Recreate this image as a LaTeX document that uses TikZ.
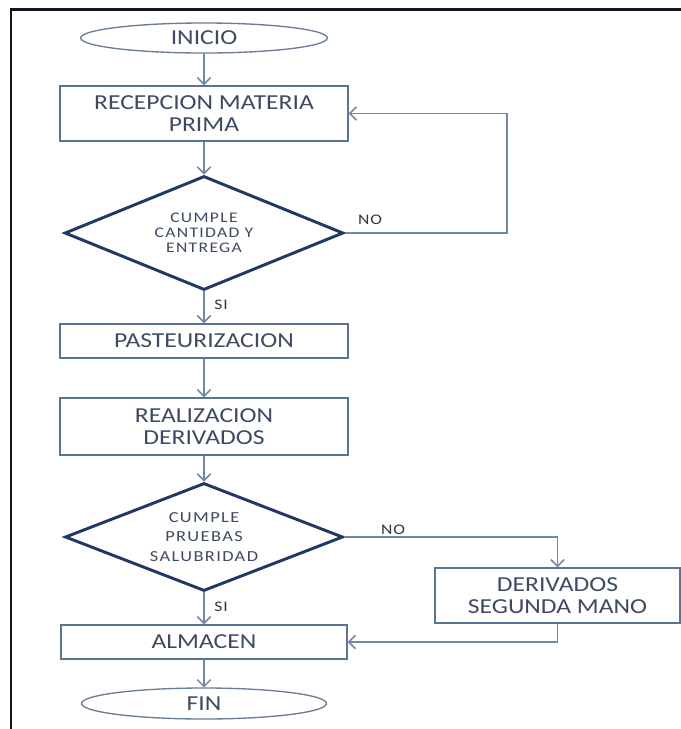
\documentclass[tikz,border=0pt]{standalone}
\usepackage{fontspec}
\setmainfont{Carlito}[FakeStretch=1.2]
\newfontfamily\diafont{Carlito}[FakeStretch=1.2,LetterSpace=9]
\newfontfamily\lblfont{Carlito}[FakeStretch=1.2,LetterSpace=6]
\usetikzlibrary{shapes.geometric,arrows.meta}

\definecolor{boxline}{HTML}{5A7496}
\definecolor{decline}{HTML}{1F3864}
\definecolor{connline}{HTML}{7088A8}
\definecolor{termline}{HTML}{6A7C96}
\definecolor{txt}{HTML}{3E4A62}
\definecolor{lbltxt}{HTML}{33383F}
\definecolor{framecol}{HTML}{10151E}

\tikzset{
  box/.style={rectangle, draw=boxline, line width=1.1pt, fill=white,
    align=center, text=txt, inner sep=0pt,
    font=\fontsize{16}{16.5}\selectfont},
  decision/.style={diamond, aspect=2.5, draw=decline, line width=2.2pt,
    fill=white, align=center, text=txt, inner sep=0pt},
  terminal/.style={ellipse, draw=termline, line width=1pt, fill=white,
    text=txt, inner sep=0pt, font=\fontsize{16}{16.5}\selectfont},
  flow/.style={draw=connline, line width=1.1pt,
    -{Straight Barb[length=5pt,width=10pt,line width=1.1pt]}},
  lbl/.style={text=lbltxt, inner sep=0pt, font=\lblfont\fontsize{11}{12}\selectfont}
}

\begin{document}
\begin{tikzpicture}[x=0.75pt,y=-0.75pt]
  \path[use as bounding box, fill=white] (0,0) rectangle (681,729);

  % page frame (top and left edges)
  \draw[framecol, line width=2.8pt] (10,9.5) -- (681,9.5);
  \draw[framecol, line width=1.9pt] (11,8) -- (11,729);

  % flow steps
  \node[terminal, minimum width=185pt, minimum height=22.5pt] (ini) at (204,38) {INICIO};
  \node[box, minimum width=216pt, minimum height=41.25pt] (rec) at (204,113.5)
    {RECEPCION MATERIA\\PRIMA};
  \node[decision, minimum width=209pt, minimum height=85.5pt,
    font=\diafont\fontsize{11}{11.2}\selectfont] (d1) at (204,233)
    {CUMPLE\\CANTIDAD Y\\ENTREGA};
  \node[box, minimum width=216pt, minimum height=25.5pt] (past) at (204,341)
    {PASTEURIZACION};
  \node[box, minimum width=216pt, minimum height=42.75pt] (real) at (204,426.5)
    {REALIZACION\\DERIVADOS};
  \node[decision, minimum width=208.5pt, minimum height=81pt,
    font=\diafont\fontsize{11.5}{14.6}\selectfont] (d2) at (204,537)
    {CUMPLE\\PRUEBAS\\SALUBRIDAD};
  \node[box, minimum width=183.75pt, minimum height=41.25pt] (der) at (557.5,595.5)
    {DERIVADOS\\SEGUNDA MANO};
  \node[box, minimum width=214.5pt, minimum height=25.5pt] (alm) at (204,642)
    {ALMACEN};
  \node[terminal, minimum width=183.75pt, minimum height=23.25pt] (fin) at (204,703.5) {FIN};

  % branch labels
  \node[lbl] (no1) at (370,220) {NO};
  \node[lbl] (si1) at (221,305) {SI};
  \node[lbl] (no2) at (393,530) {NO};
  \node[lbl] (si2) at (221,607) {SI};

  % connectors
  \coordinate (loop) at (507,233);
  \draw[flow] (ini) -- (rec);
  \draw[flow] (rec) -- (d1);
  \draw[flow] (d1) -- (past);
  \draw[flow] (past) -- (real);
  \draw[flow] (real) -- (d2);
  \draw[flow] (d2) -- (alm);
  \draw[flow] (alm) -- (fin);
  \draw[flow] (d1.east) -- (loop) |- (rec.east);
  \draw[flow] (d2.east) -| (der.north);
  \draw[flow] (der.south) |- (alm.east);
\end{tikzpicture}
\end{document}
